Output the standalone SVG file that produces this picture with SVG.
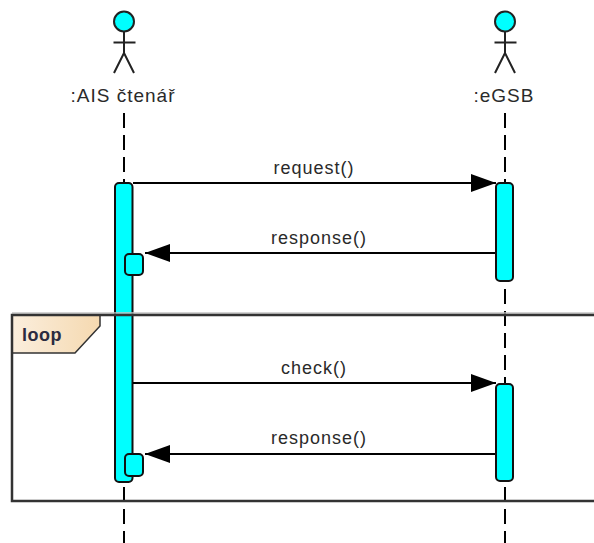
<svg xmlns="http://www.w3.org/2000/svg" width="594" height="543" viewBox="0 0 594 543">
<defs>
<linearGradient id="tabfill" x1="0" y1="0" x2="1" y2="0"><stop offset="0" stop-color="#fbeedd"/><stop offset="1" stop-color="#f5d9b0"/></linearGradient>
<marker id="head" markerUnits="userSpaceOnUse" markerWidth="26" markerHeight="20" refX="25" refY="9.5" orient="auto"><path d="M0 0.5L25 9.5L0 18.5Z" fill="#000"/></marker>
</defs>
<style>
text{font-family:"Liberation Sans",Arial,sans-serif;font-size:18px;letter-spacing:1px;fill:#2a2a2a;text-anchor:middle}
.actor-label{font-size:19px}
.life{stroke:#000;stroke-width:2;stroke-dasharray:15 7;fill:none}
.act{fill:#00ffff;stroke:#111;stroke-width:2}
.msg{stroke:#000;stroke-width:2;fill:none;marker-end:url(#head)}
.fig{stroke:#222;stroke-width:2;fill:none}
.frame{stroke:#333;stroke-width:2.5;fill:none}
</style>
<g id="connectors-lifelines">
<path class="life" d="M124 113V543"/>
<path class="life" d="M505 113V543"/>
</g>
<g id="activation-ais"><rect class="act" x="115" y="183" width="17.5" height="299" rx="4"/></g>
<g id="activation-egsb-1"><rect class="act" x="496" y="183" width="17" height="98" rx="4"/></g>
<g id="activation-egsb-2"><rect class="act" x="496" y="384" width="17" height="97" rx="4"/></g>
<g id="actor-ais">
<circle cx="124" cy="21.5" r="10" fill="#00ffff" stroke="#222" stroke-width="2"/>
<path class="fig" d="M124 32V53M113.500 42.500H135.500M114 73L124 53L134 73"/>
<text class="actor-label" x="123" y="101.500">:AIS čtenář</text>
</g>
<g id="actor-egsb">
<circle cx="505" cy="21.5" r="10" fill="#00ffff" stroke="#222" stroke-width="2"/>
<path class="fig" d="M505 32V53M494.500 42.500H516.500M495 73L505 53L515 73"/>
<text class="actor-label" x="504" y="101.500">:eGSB</text>
</g>
<g id="frame-loop">
<path d="M12 313H594" stroke="#c4c4c4" stroke-width="1.500" fill="none"/>
<path d="M12 353H75L100 326V315H12Z" fill="url(#tabfill)" stroke="#333" stroke-width="1.500"/>
<path class="frame" d="M594 315H12V501H594"/>
<text x="42" y="340.500" style="font-weight:bold;fill:#2b2b40;letter-spacing:.5px">loop</text>
</g>
<g id="connectors">
<path class="msg" d="M133 183H496"/>
<path class="msg" d="M495 253H145"/>
<path class="msg" d="M133 383H496"/>
<path class="msg" d="M495 454H145"/>
</g>
<g id="activation-ais-self-1"><rect class="act" x="125" y="254" width="18" height="21" rx="4"/></g>
<g id="activation-ais-self-2"><rect class="act" x="125" y="454" width="18" height="22" rx="4"/></g>
<g id="labels">
<text x="314" y="174">request()</text>
<text x="319" y="244">response()</text>
<text x="314" y="374">check()</text>
<text x="319" y="444">response()</text>
</g>
</svg>
